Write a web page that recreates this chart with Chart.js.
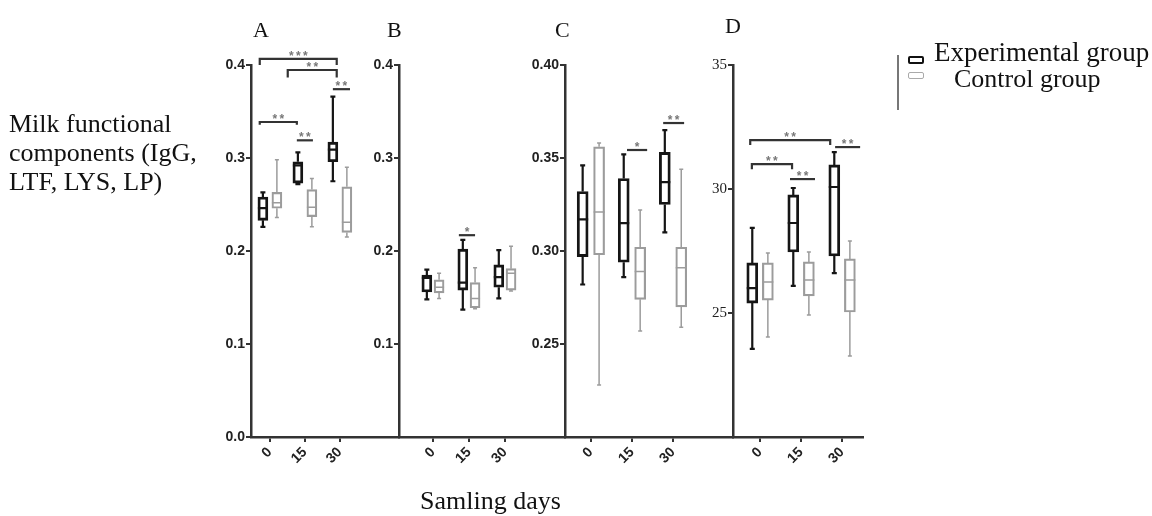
<!DOCTYPE html>
<html>
<head>
<meta charset="utf-8">
<script src="https://cdn.jsdelivr.net/npm/chart.js@4.4.1/dist/chart.umd.min.js"></script>
<style>
    body { margin: 0; background: #fff; }
    #wrap { position: relative; width: 1152px; height: 516px; overflow: hidden; }
    #wrap canvas { position: absolute; left: 0; top: 0; }
    .txt { position: absolute; font-family: "Liberation Serif", "Times New Roman", serif; color: #111; white-space: nowrap; line-height: 1; }
    .icon { position: absolute; box-sizing: border-box; border-radius: 2px; }
</style>
</head>
<body>
<div id="wrap">
    <canvas id="cA" width="1152" height="516"></canvas>
    <canvas id="cB" width="1152" height="516"></canvas>
    <canvas id="cC" width="1152" height="516"></canvas>
    <canvas id="cD" width="1152" height="516"></canvas>

    <div class="txt" style="left:253px;top:18.6px;font-size:22px;">A</div>
    <div class="txt" style="left:387px;top:18.6px;font-size:22px;">B</div>
    <div class="txt" style="left:555px;top:18.6px;font-size:22px;">C</div>
    <div class="txt" style="left:725px;top:14.6px;font-size:22px;">D</div>

    <div class="txt" style="left:9px;top:108.7px;font-size:26px;line-height:29px;">Milk functional<br>components (IgG,<br>LTF, LYS, LP)</div>
    <div class="txt" style="left:420px;top:488px;font-size:26px;">Samling days</div>

    <div style="position:absolute;left:897px;top:55px;width:2px;height:55px;background:#777;"></div>
    <div class="icon" style="left:908px;top:56px;width:16px;height:8px;border:2.5px solid #111;"></div>
    <div class="icon" style="left:908px;top:72px;width:16px;height:7px;border:1.5px solid #aaa;"></div>
    <div class="txt" style="left:934px;top:39.4px;font-size:27px;">Experimental group</div>
    <div class="txt" style="left:954px;top:66.2px;font-size:26px;">Control group</div>
</div>

<script>
// Sampling days on the x axis
const days = ['0', '15', '30'];

// Box statistics per day (0, 15, 30): [min, q1, median, q3, max]
const a_exp  = [[0.226, 0.233, 0.246, 0.258, 0.263], [0.272, 0.273, 0.292, 0.296, 0.306], [0.275, 0.296, 0.309, 0.317, 0.366]];
const a_ctrl = [[0.236, 0.246, 0.252, 0.263, 0.298], [0.226, 0.237, 0.247, 0.266, 0.278], [0.215, 0.220, 0.231, 0.269, 0.290]];

const b_exp  = [[0.148, 0.156, 0.171, 0.174, 0.180], [0.137, 0.158, 0.166, 0.202, 0.212], [0.149, 0.161, 0.172, 0.185, 0.201]];
const b_ctrl = [[0.149, 0.155, 0.161, 0.169, 0.176], [0.138, 0.139, 0.149, 0.166, 0.182], [0.157, 0.158, 0.176, 0.181, 0.205]];

const c_exp  = [[0.282, 0.297, 0.317, 0.332, 0.346], [0.286, 0.294, 0.315, 0.339, 0.352], [0.310, 0.325, 0.337, 0.353, 0.365]];
const c_ctrl = [[0.228, 0.298, 0.321, 0.356, 0.358], [0.257, 0.274, 0.289, 0.302, 0.322], [0.259, 0.270, 0.291, 0.302, 0.344]];

const d_exp  = [[23.55, 25.40, 26.00, 27.02, 28.43], [26.09, 27.46, 28.63, 29.76, 30.04], [26.61, 27.30, 30.08, 30.97, 31.49]];
const d_ctrl = [[24.03, 25.52, 26.25, 27.02, 27.42], [24.92, 25.69, 26.33, 27.06, 27.46], [23.27, 25.04, 26.33, 27.18, 27.90]];

// Significance marks: [from day, to day, level, drop of bracket ends, stars]
const a_sig = [[-0.29, 1.91, 0.4065, 0.0065, '***'], [0.51, 1.91, 0.3946, 0.008, '**'], [1.80, 2.29, 0.374, 0, '**'],
               [-0.29, 0.77, 0.3387, 0.003, '**'], [0.77, 1.23, 0.319, 0, '**']];
const b_sig = [[0.72, 1.17, 0.217, 0, '*']];
const c_sig = [[0.88, 1.37, 0.3543, 0, '*'], [1.76, 2.27, 0.3688, 0, '**']];
const d_sig = [[-0.24, 1.71, 31.97, 0.2, '**'], [-0.20, 0.78, 31.0, 0.2, '**'], [0.73, 1.34, 30.4, 0, '**'], [1.83, 2.44, 31.69, 0, '**']];

const BLACK = '#151515';
const GRAY = '#9c9c9c';

// whiskers + medians on top of the floating bars
const boxPlugin = {
    id: 'boxWhiskers',
    afterDatasetsDraw(chart) {
        const ctx = chart.ctx;
        const y = chart.scales.y;
        chart.data.datasets.forEach((ds, i) => {
            const meta = chart.getDatasetMeta(i);
            meta.data.forEach((bar, j) => {
                const s = ds.stats[j];
                const half = bar.width / 2;
                const cap = ds.capHalf;
                ctx.save();
                ctx.strokeStyle = ds.borderColor;
                ctx.lineWidth = ds.borderWidth;
                ctx.beginPath();
                ctx.moveTo(bar.x, y.getPixelForValue(s[3]));
                ctx.lineTo(bar.x, y.getPixelForValue(s[4]));
                ctx.moveTo(bar.x, y.getPixelForValue(s[1]));
                ctx.lineTo(bar.x, y.getPixelForValue(s[0]));
                ctx.moveTo(bar.x - cap, y.getPixelForValue(s[4]));
                ctx.lineTo(bar.x + cap, y.getPixelForValue(s[4]));
                ctx.moveTo(bar.x - cap, y.getPixelForValue(s[0]));
                ctx.lineTo(bar.x + cap, y.getPixelForValue(s[0]));
                ctx.moveTo(bar.x - half, y.getPixelForValue(s[2]));
                ctx.lineTo(bar.x + half, y.getPixelForValue(s[2]));
                ctx.stroke();
                ctx.restore();
            });
        });
    }
};

// significance brackets and stars
const sigPlugin = {
    id: 'sigMarks',
    afterDraw(chart, args, opts) {
        const ctx = chart.ctx;
        const x = chart.scales.x, y = chart.scales.y;
        (opts.marks || []).forEach(m => {
            const x1 = x.getPixelForValue(m[0]);
            const x2 = x.getPixelForValue(m[1]);
            const yy = y.getPixelForValue(m[2]);
            const yd = y.getPixelForValue(m[2] - m[3]);
            ctx.save();
            ctx.strokeStyle = '#333';
            ctx.lineWidth = 2.2;
            ctx.beginPath();
            ctx.moveTo(x1, yd);
            ctx.lineTo(x1, yy);
            ctx.lineTo(x2, yy);
            ctx.lineTo(x2, yd);
            ctx.stroke();
            ctx.fillStyle = '#777';
            ctx.font = 'bold 12px "Liberation Sans", Arial, sans-serif';
            ctx.textAlign = 'center';
            ctx.textBaseline = 'alphabetic';
            const n = m[4].length, gap = 7;
            const cx = (x1 + x2) / 2;
            for (let k = 0; k < n; k++) {
                ctx.fillText('*', cx + (k - (n - 1) / 2) * gap, yy + 1);
            }
            ctx.restore();
        });
    }
};

const panels = [
    { id: 'cA', exp: a_exp, ctrl: a_ctrl, sig: a_sig, left: 251, right: 399, xMin: -0.54, xMax: 3.69,
      yMin: 0, yMax: 0.4, step: 0.1, digits: 1, hideMin: false, shift: 0.2, bar: 10, serif: false },
    { id: 'cB', exp: b_exp, ctrl: b_ctrl, sig: b_sig, left: 399, right: 565, xMin: -0.944, xMax: 3.67,
      yMin: 0, yMax: 0.4, step: 0.1, digits: 1, hideMin: true, shift: 0.17, bar: 10, serif: false },
    { id: 'cC', exp: c_exp, ctrl: c_ctrl, sig: c_sig, left: 565, right: 733, xMin: -0.63, xMax: 3.46,
      yMin: 0.2, yMax: 0.4, step: 0.05, digits: 2, hideMin: true, shift: 0.2, bar: 11, serif: false },
    { id: 'cD', exp: d_exp, ctrl: d_ctrl, sig: d_sig, left: 733, right: 863, xMin: -0.66, xMax: 2.51,
      yMin: 20, yMax: 35, step: 5, digits: 0, hideMin: true, shift: 0.19, bar: 11, serif: true }
];

const TOP = 65, BOTTOM = 437, YW = 40, XH = 45;

panels.forEach(p => {
    const boxData = (stats, dx) => stats.map((s, i) => ({ x: i + dx, y: [s[1], s[3]] }));

    new Chart(document.getElementById(p.id), {
        type: 'bar',
        data: {
            datasets: [
                { label: 'Experimental group', data: boxData(p.exp, -p.shift), stats: p.exp,
                  borderColor: BLACK, borderWidth: 2.2, capHalf: 2.5, backgroundColor: 'rgba(255,255,255,0)',
                  borderSkipped: false, barThickness: p.bar, grouped: false },
                { label: 'Control group', data: boxData(p.ctrl, p.shift), stats: p.ctrl,
                  borderColor: GRAY, borderWidth: 1.5, capHalf: 2, backgroundColor: 'rgba(255,255,255,0)',
                  borderSkipped: false, barThickness: p.bar, grouped: false }
            ]
        },
        options: {
            responsive: false,
            animation: false,
            devicePixelRatio: 1,
            layout: { padding: { left: p.left - YW, right: 1152 - p.right, top: TOP, bottom: 516 - BOTTOM - XH } },
            plugins: {
                legend: { display: false },
                tooltip: { enabled: false },
                sigMarks: { marks: p.sig }
            },
            scales: {
                x: {
                    type: 'linear',
                    min: p.xMin,
                    max: p.xMax,
                    offset: false,
                    afterBuildTicks: axis => { axis.ticks = [0, 1, 2].map(v => ({ value: v })); },
                    afterFit: axis => { axis.height = XH; },
                    grid: { offset: false, drawOnChartArea: false, drawTicks: true, tickLength: 5, color: '#333', lineWidth: 2 },
                    border: { display: true, color: '#333', width: 2.5 },
                    ticks: {
                        autoSkip: false,
                        minRotation: 45,
                        maxRotation: 45,
                        padding: 2,
                        color: '#222',
                        font: { family: '"Liberation Sans", Arial, sans-serif', size: 14, weight: 'bold' },
                        callback: v => days[v]
                    }
                },
                y: {
                    type: 'linear',
                    min: p.yMin,
                    max: p.yMax,
                    afterFit: axis => { axis.width = YW; },
                    grid: { drawOnChartArea: false, drawTicks: true, tickLength: 5, color: '#333', lineWidth: 2 },
                    border: { display: true, color: '#333', width: 2.5 },
                    ticks: {
                        stepSize: p.step,
                        padding: 1,
                        color: '#222',
                        font: p.serif
                            ? { family: '"Liberation Serif", "Times New Roman", serif', size: 15, weight: 'normal' }
                            : { family: '"Liberation Sans", Arial, sans-serif', size: 14, weight: 'bold' },
                        callback: v => (p.hideMin && Math.abs(v - p.yMin) < 1e-9) ? '' : v.toFixed(p.digits)
                    }
                }
            }
        },
        plugins: [boxPlugin, sigPlugin]
    });
});
</script>
</body>
</html>
